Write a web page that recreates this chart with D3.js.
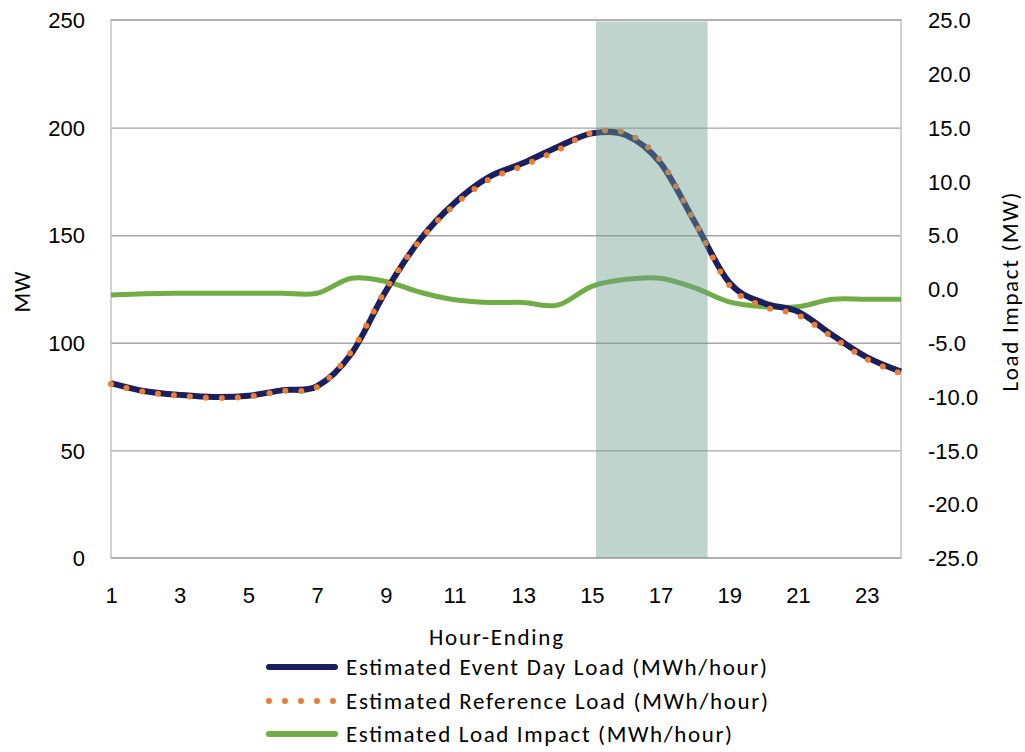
<!DOCTYPE html>
<html>
<head>
<meta charset="utf-8">
<script src="https://cdn.jsdelivr.net/npm/d3@7"></script>
<style>
  html, body { margin: 0; padding: 0; background: #ffffff; }
  svg { display: block; font-family: Carlito, Lato, "Open Sans", sans-serif; }
  .tick text { fill: #000; }
</style>
</head>
<body>
<svg id="chart" width="1025" height="752"></svg>
<script>
// Hour-ending categories
const hours = d3.range(1, 25);

// Estimated event day load, MWh/hour (left axis, MW)
const eventDayLoad = [81.3, 77.5, 75.8, 74.8, 75.4, 78.0, 79.8, 95.0, 124.0, 148.0, 165.0, 177.0,
                      183.5, 191.0, 197.3, 196.5, 183.5, 156.0, 128.0, 118.5, 114.5, 103.6, 93.3, 86.6];

// Estimated reference load, MWh/hour (left axis, MW)
const referenceLoad = [80.8, 77.1, 75.4, 74.4, 75.0, 77.6, 79.4, 96.0, 124.7, 147.7, 164.0, 175.8,
                       182.3, 189.5, 197.6, 197.4, 184.5, 156.1, 126.8, 116.9, 112.9, 102.7, 92.4, 85.7];

// Estimated load impact, MWh/hour (right axis, MW)
const loadImpact = [-0.55, -0.45, -0.4, -0.4, -0.4, -0.4, -0.4, 1.0, 0.7, -0.3, -1.0, -1.25,
                    -1.25, -1.5, 0.25, 0.9, 1.0, 0.1, -1.2, -1.65, -1.65, -0.95, -0.95, -0.95];

// Event window (hour-ending scale)
const eventWindow = [15.12, 18.37];

// Axis ticks
const xTicks = [1, 3, 5, 7, 9, 11, 13, 15, 17, 19, 21, 23];
const leftTicks = [0, 50, 100, 150, 200, 250];
const rightTicks = [-25, -20, -15, -10, -5, 0, 5, 10, 15, 20, 25];

const seriesNames = [
  "Estimated Event Day Load (MWh/hour)",
  "Estimated Reference Load (MWh/hour)",
  "Estimated Load Impact (MWh/hour)"
];

const colors = { event: "#1c1f5e", ref: "#ed7d31", impact: "#70ad47" };

const svg = d3.select("#chart");
const plot = { left: 111, right: 901, top: 20, bottom: 558 };

const x = d3.scaleLinear().domain([1, 24]).range([plot.left, plot.right]);
const yL = d3.scaleLinear().domain([0, 250]).range([plot.bottom, plot.top]);
const yR = d3.scaleLinear().domain([-25, 25]).range([plot.bottom, plot.top]);

// Horizontal gridlines
svg.append("g")
  .attr("transform", `translate(${plot.left},0)`)
  .call(d3.axisLeft(yL).tickValues([50, 100, 150, 200]).tickSize(-(plot.right - plot.left)).tickFormat(""))
  .call(g => g.select(".domain").remove())
  .call(g => g.selectAll("line").attr("stroke", "#a6a6a6").attr("stroke-width", 1.4));

// Plot frame
svg.append("rect")
  .attr("x", plot.left).attr("y", plot.top)
  .attr("width", plot.right - plot.left).attr("height", plot.bottom - plot.top)
  .attr("fill", "none").attr("stroke", "#bfbfbf").attr("stroke-width", 1.4);
svg.append("line")
  .attr("x1", plot.left).attr("x2", plot.right)
  .attr("y1", plot.top).attr("y2", plot.top)
  .attr("stroke", "#a6a6a6").attr("stroke-width", 1.4);
svg.append("line")
  .attr("x1", plot.left).attr("x2", plot.right)
  .attr("y1", plot.bottom).attr("y2", plot.bottom)
  .attr("stroke", "#a6a6a6").attr("stroke-width", 1.4);

const curve = d3.curveCatmullRom.alpha(0);

// Load impact (right axis)
svg.append("path")
  .datum(hours.map((h, i) => [h, loadImpact[i]]))
  .attr("fill", "none").attr("stroke", colors.impact).attr("stroke-width", 5)
  .attr("stroke-linejoin", "round")
  .attr("d", d3.line().x(d => x(d[0])).y(d => yR(d[1])).curve(curve));

// Event day load
svg.append("path")
  .datum(hours.map((h, i) => [h, eventDayLoad[i]]))
  .attr("fill", "none").attr("stroke", colors.event).attr("stroke-width", 6)
  .attr("stroke-linejoin", "round")
  .attr("d", d3.line().x(d => x(d[0])).y(d => yL(d[1])).curve(curve));

// Reference load (round dotted)
svg.append("path")
  .datum(hours.map((h, i) => [h, referenceLoad[i]]))
  .attr("fill", "none").attr("stroke", colors.ref).attr("stroke-width", 6)
  .attr("stroke-linecap", "round").attr("stroke-dasharray", "0 16")
  .attr("d", d3.line().x(d => x(d[0])).y(d => yL(d[1])).curve(curve));

// Event window shading, drawn over the series
svg.append("rect")
  .attr("x", x(eventWindow[0])).attr("y", plot.top + 1.5)
  .attr("width", x(eventWindow[1]) - x(eventWindow[0]))
  .attr("height", plot.bottom - plot.top - 1.5)
  .attr("fill", "rgb(111,157,143)").attr("fill-opacity", 0.44);

const fontSize = 22;
const titleSize = 23;

// Left axis labels
svg.append("g")
  .attr("transform", `translate(85,0)`)
  .call(d3.axisLeft(yL).tickValues(leftTicks).tickSize(0).tickPadding(0))
  .call(g => g.select(".domain").remove())
  .call(g => g.selectAll("text").attr("font-size", fontSize).attr("font-family", null).attr("dy", "0.35em"));

// Right axis labels
svg.append("g")
  .attr("transform", `translate(928,0)`)
  .call(d3.axisRight(yR).tickValues(rightTicks).tickSize(0).tickPadding(0)
    .tickFormat(v => v.toFixed(1)))
  .call(g => g.select(".domain").remove())
  .call(g => g.selectAll("text").attr("font-size", fontSize).attr("font-family", null).attr("dy", "0.35em"));

// Bottom axis labels
svg.append("g")
  .attr("transform", `translate(0,${plot.bottom})`)
  .call(d3.axisBottom(x).tickValues(xTicks).tickSize(0).tickPadding(0).tickFormat(d3.format("d")))
  .call(g => g.select(".domain").remove())
  .call(g => g.selectAll("text").attr("font-size", fontSize).attr("font-family", null)
    .attr("dy", null).attr("y", 45));

// Axis titles
svg.append("text")
  .attr("x", 496).attr("y", 645).attr("text-anchor", "middle")
  .attr("font-size", titleSize).attr("fill", "#000")
  .attr("textLength", 134).attr("lengthAdjust", "spacing").text("Hour-Ending");

svg.append("text")
  .attr("transform", "translate(30,292) rotate(-90)")
  .attr("text-anchor", "middle").attr("font-size", titleSize).attr("fill", "#000")
  .attr("textLength", 41).attr("lengthAdjust", "spacing").text("MW");

svg.append("text")
  .attr("transform", "translate(1018,292) rotate(-90)")
  .attr("text-anchor", "middle").attr("font-size", titleSize).attr("fill", "#000")
  .attr("textLength", 199).attr("lengthAdjust", "spacing").text("Load Impact (MW)");

// Legend
const legendRows = [
  { name: seriesNames[0], color: colors.event, dash: null, y: 667, w: 421 },
  { name: seriesNames[1], color: colors.ref, dash: "0 16", y: 701, w: 422 },
  { name: seriesNames[2], color: colors.impact, dash: null, y: 734, w: 386 }
];
const legend = svg.append("g");
legendRows.forEach(r => {
  legend.append("line")
    .attr("x1", 269).attr("x2", 335).attr("y1", r.y).attr("y2", r.y)
    .attr("stroke", r.color).attr("stroke-width", 6)
    .attr("stroke-linecap", "round")
    .attr("stroke-dasharray", r.dash);
  legend.append("text")
    .attr("x", 346).attr("y", r.y).attr("dy", "0.35em")
    .attr("font-size", titleSize).attr("fill", "#000")
    .attr("textLength", r.w).attr("lengthAdjust", "spacing").text(r.name);
});
</script>
</body>
</html>
